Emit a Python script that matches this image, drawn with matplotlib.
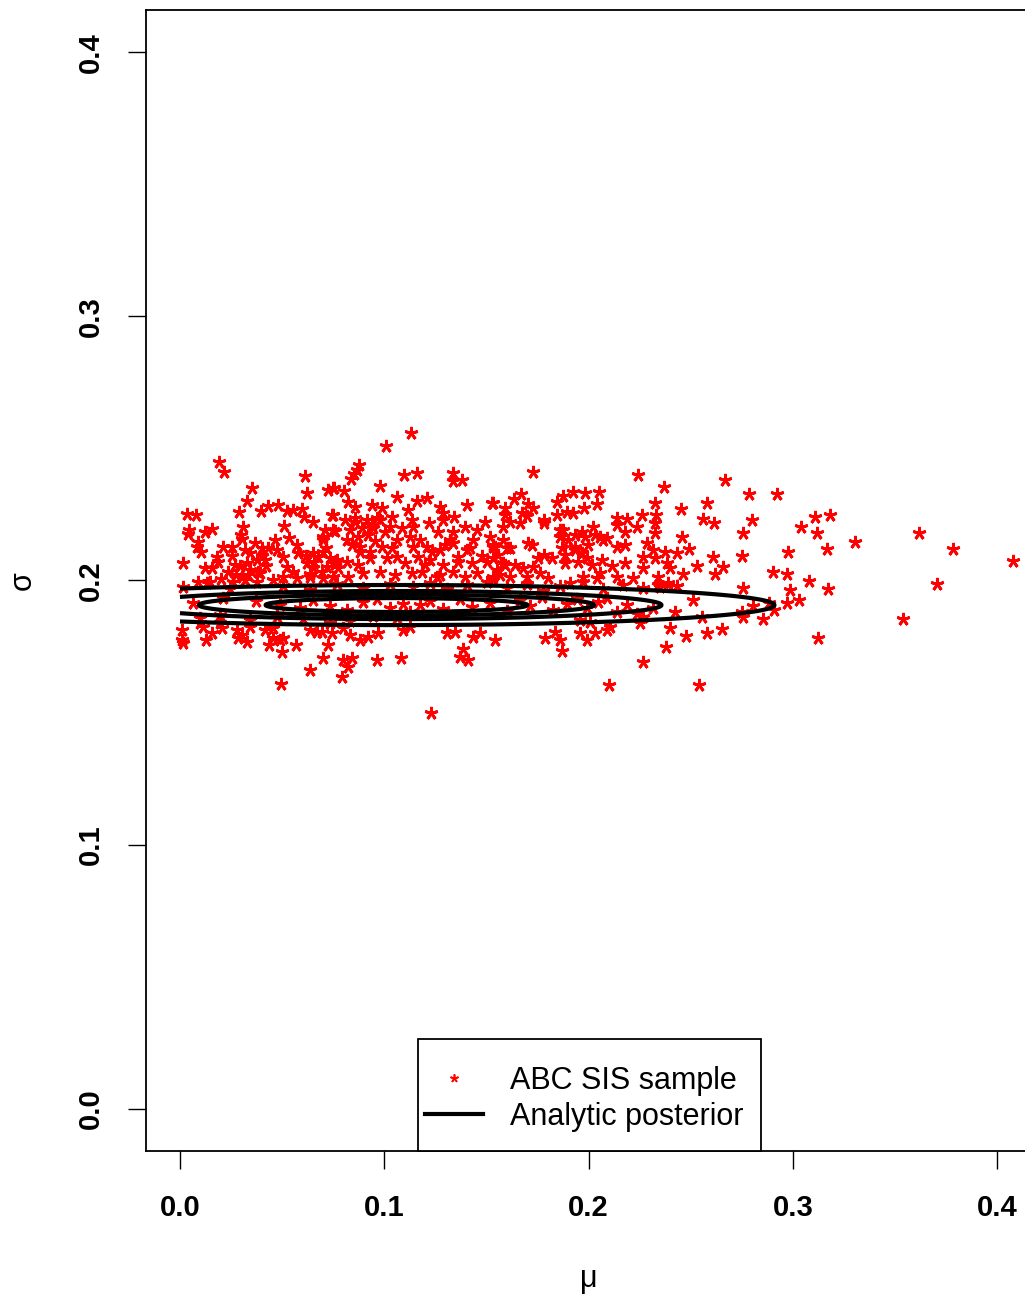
import numpy as np
import matplotlib
matplotlib.use("Agg")
import matplotlib.pyplot as plt
from matplotlib.lines import Line2D
from matplotlib.patches import Rectangle

plt.rcParams['font.family'] = ['Liberation Sans', 'DejaVu Sans']

# ---------------- data: ABC SIS sample (mu, sigma)
mu_right = [0.2787,0.2921,0.2801,0.2757,0.3108,0.3182,0.3038,0.3119,
            0.3304,0.3617,0.3782,0.4076,0.2752,0.2977,0.3168,0.2904,
            0.2970,0.3080,0.2986,0.3172,0.3707,0.2754,0.2803,0.2885,
            0.2970,0.3028,0.2909,0.2757,0.2855,0.3537,0.3123,0.2749]
sigma_right = [0.2327,0.2327,0.2229,0.2178,0.2241,0.2247,0.2203,0.2180,
               0.2145,0.2178,0.2118,0.2073,0.2092,0.2107,0.2118,0.2031,
               0.2024,0.1997,0.1964,0.1969,0.1986,0.1970,0.1903,0.1916,
               0.1916,0.1926,0.1888,0.1863,0.1854,0.1853,0.1781,0.1882]

mu_midright = [0.2369,0.2667,0.2451,0.2578,0.2561,0.2614,0.2456,0.2374,
               0.2432,0.2493,0.2529,0.2611,0.2656,0.2619,0.2383,0.2461,
               0.2399,0.2341,0.2391,0.2432,0.2513,0.2423,0.2252,0.2399,
               0.2477,0.2578,0.2651,0.2379,0.2265,0.2100,0.2539,0.2554,
               0.2350]
sigma_midright = [0.2355,0.2380,0.2269,0.2294,0.2231,0.2216,0.2166,0.2109,
                  0.2103,0.2118,0.2055,0.2088,0.2052,0.2024,0.2065,0.2024,
                  0.2046,0.1982,0.1989,0.1979,0.1926,0.1882,0.1838,0.1819,
                  0.1790,0.1800,0.1815,0.1749,0.1692,0.1604,0.1604,0.1861,
                  0.1976]

mu_lowmid = [0.1787,0.1860,0.1958,0.1991,0.2031,0.2089,0.1869,0.1542,
             0.1436,0.1371,0.1412,0.1387,0.1306,0.1346,0.1468,0.1230,
             0.1836]
sigma_lowmid = [0.1781,0.1775,0.1800,0.1775,0.1800,0.1812,0.1733,0.1775,
                0.1787,0.1710,0.1700,0.1741,0.1800,0.1806,0.1800,0.1497,
                0.1806]

mu_lowleft = [0.0008,0.0008,0.0013,0.0127,0.0155,0.0204,0.0277,0.0302,
              0.0327,0.0285,0.0416,0.0457,0.0489,0.0437,0.0506,0.0498,
              0.0568,0.0636,0.0494,0.0701,0.0726,0.0694,0.0669,0.0743,
              0.0791,0.0824,0.0799,0.0840,0.0832,0.0881,0.0922,0.0971,
              0.0963,0.1082,0.1093,0.1126,0.0098,0.0114,0.0196,0.0343,
              0.0457,0.0636,0.0734,0.0799]
sigma_lowleft = [0.1812,0.1775,0.1762,0.1775,0.1800,0.1819,0.1812,0.1794,
                 0.1768,0.1781,0.1812,0.1781,0.1775,0.1756,0.1781,0.1730,
                 0.1756,0.1661,0.1608,0.1705,0.1756,0.1806,0.1806,0.1800,
                 0.1636,0.1671,0.1699,0.1705,0.1794,0.1775,0.1787,0.1800,
                 0.1699,0.1705,0.1812,0.1825,0.1838,0.1825,0.1838,0.1825,
                 0.1819,0.1812,0.1838,0.1819]

mu_bandright = [0.1175,0.1224,0.1289,0.1371,0.1428,0.1517,0.1599,0.1664,
                0.1713,0.1771,0.1827,0.1893,0.1942,0.1991,0.2048,0.2089,
                0.2138,0.2187,0.2236,0.2268,0.2317,0.2105,0.2007,0.1958,
                0.1142,0.1224,0.1306,0.1403,0.1501,0.1599,0.1697,0.1778,
                0.1860,0.1974,0.2072,0.2170,0.2268]
sigma_bandright = [0.1907,0.1922,0.1893,0.1931,0.1899,0.1916,0.1884,0.1927,
                   0.1905,0.1938,0.1890,0.1912,0.1929,0.1897,0.1918,0.1935,
                   0.1880,0.1909,0.1872,0.1863,0.1894,0.1825,0.1844,0.1851,
                   0.1976,0.1990,0.1968,0.1983,0.1994,0.1972,0.1986,0.1961,
                   0.1979,0.1995,0.1966,0.1984,0.1971]

mu_bandleft = [0.0065,0.0372,0.0212,0.0490,0.0587,0.0653,0.0734,0.0816,
               0.0897,0.0963,0.1028,0.1093,0.1126,0.0098,0.0196,0.0343,
               0.0473,0.0604,0.0718,0.0832,0.0946,0.1061,0.0016,0.0131,
               0.0245,0.0375,0.0506,0.0636,0.0767,0.0897,0.1028]
sigma_bandleft = [0.1916,0.1921,0.1932,0.1908,0.1897,0.1925,0.1903,0.1889,
                  0.1918,0.1929,0.1894,0.1911,0.1882,0.1857,0.1869,0.1849,
                  0.1861,0.1853,0.1872,0.1845,0.1866,0.1858,0.1976,0.1991,
                  0.1968,0.1994,0.1979,0.1965,0.1988,0.1972,0.1985]

mu_upleft = [0.0191,0.0215,0.0612,0.0620,0.0351,0.0329,0.0290,0.0726,
             0.0754,0.0033,0.0077,0.0395,0.0429,0.0481,0.0525,0.0555,
             0.0596,0.0607,0.0650,0.0746,0.0511,0.0044,0.0041,0.0122,
             0.0158,0.0310,0.0297,0.0302,0.0710,0.0759,0.0701,0.0699,
             0.0088,0.0082,0.0101,0.0465,0.0535,0.0212,0.0253,0.0318,
             0.0367,0.0180,0.0187,0.0016,0.0473,0.0506,0.0571,0.0579,
             0.0653,0.0677,0.0701,0.0122,0.0155,0.0327,0.0375,0.0416,
             0.0522,0.0555,0.0620,0.0653,0.0718,0.0759,0.0090,0.0147,
             0.0201,0.0261,0.0302,0.0334,0.0392,0.0457,0.0506,0.0571,
             0.0636,0.0701,0.0750,0.0269,0.0343,0.0401,0.0235,0.0431]
sigma_upleft = [0.2447,0.2409,0.2395,0.2332,0.2349,0.2302,0.2260,0.2342,
                0.2349,0.2251,0.2248,0.2264,0.2282,0.2286,0.2262,0.2266,
                0.2269,0.2241,0.2221,0.2248,0.2206,0.2191,0.2176,0.2185,
                0.2194,0.2201,0.2172,0.2158,0.2191,0.2188,0.2153,0.2164,
                0.2147,0.2128,0.2107,0.2153,0.2160,0.2128,0.2128,0.2115,
                0.2141,0.2090,0.2071,0.2067,0.2115,0.2090,0.2134,0.2103,
                0.2103,0.2090,0.2109,0.2046,0.2046,0.2065,0.2077,0.2077,
                0.2052,0.2033,0.2065,0.2046,0.2052,0.2062,0.1995,0.1995,
                0.2004,0.1995,0.2014,0.2020,0.2027,0.2002,0.2014,0.2008,
                0.2014,0.2008,0.2014,0.2058,0.2039,0.2092,0.2032,0.2123]

mu_upmid = [0.1008,0.0878,0.0865,0.0852,0.0836,0.1097,0.1162,0.1338,
            0.1335,0.1379,0.0979,0.0750,0.0803,0.1064,0.1162,0.1208,
            0.1273,0.1286,0.1286,0.1403,0.1526,0.0824,0.0857,0.0938,
            0.0987,0.0750,0.0808,0.0857,0.0914,0.0963,0.1036,0.1118,
            0.1134,0.1221,0.1341,0.1395,0.1493,0.1452,0.0750,0.0832,
            0.0873,0.0816,0.0946,0.1028,0.1085,0.1142,0.1265,0.1338,
            0.1061,0.1126,0.1322,0.1436,0.1517,0.0881,0.0930,0.0987,
            0.1142,0.1208,0.1273,0.1338,0.1403,0.1542,0.0767,0.0816,
            0.0873,0.0930,0.1012,0.1061,0.1101,0.1167,0.1224,0.1289,
            0.1362,0.1428,0.1501,0.0750,0.0824,0.0897,0.0979,0.1052,
            0.1134,0.1183,0.1257,0.1395,0.1452,0.1534,0.1338,0.1129]
sigma_upmid = [0.2509,0.2437,0.2420,0.2405,0.2383,0.2399,0.2408,0.2408,
               0.2378,0.2380,0.2357,0.2349,0.2340,0.2317,0.2302,0.2311,
               0.2279,0.2254,0.2229,0.2286,0.2294,0.2298,0.2279,0.2286,
               0.2273,0.2248,0.2229,0.2235,0.2229,0.2235,0.2241,0.2266,
               0.2229,0.2216,0.2239,0.2201,0.2223,0.2191,0.2191,0.2191,
               0.2166,0.2153,0.2197,0.2203,0.2197,0.2203,0.2185,0.2185,
               0.2153,0.2166,0.2153,0.2153,0.2166,0.2128,0.2109,0.2128,
               0.2128,0.2128,0.2115,0.2141,0.2115,0.2128,0.2077,0.2071,
               0.2058,0.2084,0.2084,0.2090,0.2065,0.2090,0.2077,0.2058,
               0.2090,0.2065,0.2071,0.2014,0.2014,0.2027,0.2033,0.2020,
               0.2027,0.2033,0.2014,0.2014,0.2027,0.2014,0.2033,0.2559]

mu_upright = [0.1726,0.2244,0.1668,0.1635,0.1534,0.1873,0.1922,0.1982,
              0.2053,0.1844,0.1702,0.1726,0.1978,0.2043,0.1591,0.1591,
              0.1673,0.1697,0.1844,0.1896,0.1925,0.1780,0.1780,0.1616,
              0.1664,0.1583,0.2137,0.2186,0.2137,0.2260,0.2325,0.2020,
              0.2178,0.2236,0.2325,0.2325,0.2330,0.1876,0.1860,0.1933,
              0.1982,0.2056,0.2089,0.1583,0.1705,0.1722,0.1534,0.1599,
              0.2137,0.2178,0.2285,0.2317,0.1869,0.1933,0.1966,0.1991,
              0.1780,0.1820,0.1754,0.1534,0.1583,0.1550,0.1640,0.1680,
              0.1729,0.1885,0.1950,0.2015,0.2064,0.2113,0.2178,0.2268,
              0.2268,0.2325,0.1762,0.1803,0.1616,0.1697,0.1974,0.2040,
              0.2056,0.2137,0.2219,0.2341,0.1534,0.1909,0.2390,0.2431]
sigma_upright = [0.2412,0.2399,0.2327,0.2307,0.2294,0.2320,0.2336,0.2330,
                 0.2336,0.2298,0.2289,0.2273,0.2273,0.2289,0.2273,0.2248,
                 0.2254,0.2244,0.2248,0.2260,0.2256,0.2229,0.2216,0.2223,
                 0.2219,0.2203,0.2235,0.2231,0.2210,0.2248,0.2292,0.2201,
                 0.2185,0.2201,0.2216,0.2178,0.2248,0.2191,0.2166,0.2172,
                 0.2166,0.2166,0.2160,0.2153,0.2141,0.2134,0.2128,0.2122,
                 0.2128,0.2134,0.2141,0.2115,0.2122,0.2128,0.2103,0.2084,
                 0.2096,0.2084,0.2084,0.2084,0.2065,0.2039,0.2058,0.2046,
                 0.2052,0.2065,0.2071,0.2058,0.2077,0.2055,0.2067,0.2090,
                 0.2046,0.2084,0.2027,0.2008,0.2014,0.2014,0.2014,0.2008,
                 0.2027,0.2014,0.2008,0.2014,0.2002,0.1989,0.1983,0.1979]

mu_dense = [0.0857,0.0891,0.0920,0.0955,0.0842,0.1003,0.1038,0.0881,
            0.0940,0.0979,0.0255,0.0294,0.0343,0.0382,0.0421,0.0274,
            0.0401,0.0318,0.0617,0.0656,0.0695,0.0734,0.0773,0.0636,
            0.0715,0.1532,0.1557,0.1591,0.1566,0.1615,0.1860,0.1899,
            0.1934,0.1968,0.1997,0.1885,0.2031,0.2071,0.1175,0.1234,
            0.1297,0.1361,0.1420,0.1478,0.1199,0.1273]
sigma_dense = [0.2221,0.2199,0.2172,0.2149,0.2134,0.2183,0.2123,0.2108,
               0.2210,0.2229,0.2092,0.2055,0.2104,0.2032,0.2055,0.2021,
               0.2123,0.2002,0.2092,0.2070,0.2032,0.2085,0.2047,0.2024,
               0.2123,0.2134,0.2096,0.2059,0.2021,0.2123,0.2191,0.2153,
               0.2115,0.2183,0.2134,0.2096,0.2172,0.2153,0.2153,0.2108,
               0.2134,0.2070,0.2123,0.2092,0.2059,0.2021]

# ---------------- analytic posterior (contour) parameters
post_mu_center = 0.106
post_sigma_center = 0.1907
post_mu_scale = 0.1
post_sigma_scale = 0.0041
contour_radii = [0.641, 0.967, 1.297, 1.85]

x_ticks = [0.0, 0.1, 0.2, 0.3, 0.4]
x_tick_labels = ["0.0", "0.1", "0.2", "0.3", "0.4"]
y_ticks = [0.0, 0.1, 0.2, 0.3, 0.4]
y_tick_labels = ["0.0", "0.1", "0.2", "0.3", "0.4"]
legend_labels = ["ABC SIS sample", "Analytic posterior"]

# ---------------- figure
fig = plt.figure(figsize=(10.25, 12.95), dpi=100)
ax = fig.add_axes([0.1429, 0.1112, 0.8825, 0.8811])

groups = [(mu_right, sigma_right), (mu_midright, sigma_midright),
          (mu_lowmid, sigma_lowmid), (mu_lowleft, sigma_lowleft),
          (mu_bandright, sigma_bandright), (mu_bandleft, sigma_bandleft),
          (mu_upleft, sigma_upleft), (mu_upmid, sigma_upmid),
          (mu_upright, sigma_upright), (mu_dense, sigma_dense)]
mu_all = np.concatenate([np.asarray(m) for m, s in groups])
sigma_all = np.concatenate([np.asarray(s) for m, s in groups])

star = (5, 2, 0)
ax.plot(mu_all, sigma_all, linestyle='none', marker=star, markersize=9.5,
        markeredgewidth=2.0, color='#ff0000', zorder=2)

mg = np.linspace(0.0, 0.42, 900)
sg = np.linspace(0.17, 0.215, 500)
M, S = np.meshgrid(mg, sg)
Z = np.exp(-0.5 * ((M - post_mu_center) / post_mu_scale) ** 2
           - 0.5 * ((S - post_sigma_center) / post_sigma_scale) ** 2)
levels = sorted(np.exp(-0.5 * np.asarray(contour_radii) ** 2))
ax.contour(M, S, Z, levels=levels, colors='black', linewidths=3.0, zorder=3)

ax.set_xlim(-0.0164, 0.4264)
ax.set_ylim(-0.016, 0.416)
ax.set_xticks(x_ticks)
ax.set_xticklabels(x_tick_labels, fontsize=21, fontweight='bold')
ax.set_yticks(y_ticks)
ax.set_yticklabels(y_tick_labels, fontsize=21, fontweight='bold',
                   rotation=90, va='center')
ax.tick_params(axis='both', direction='out', length=13, width=1.0,
               color='black')
ax.tick_params(axis='x', pad=18)
ax.tick_params(axis='y', pad=17)
for sp in ax.spines.values():
    sp.set_linewidth(1.3)
    sp.set_color('black')

ax.set_xlabel("μ", fontsize=22, labelpad=30)
ax.xaxis.label.set_x(0.4892)
ax.set_ylabel("σ", fontsize=22, labelpad=28)

# legend box (R style: touching the bottom of the plot region)
ax.add_patch(Rectangle((0.3001, 0.0), 0.3792, 0.0982, transform=ax.transAxes,
                       facecolor='white', edgecolor='black', linewidth=1.3,
                       zorder=4, clip_on=False))
handles = [Line2D([], [], linestyle='none', marker=star, markersize=6,
                  markeredgewidth=1.2, color='#ff0000'),
           Line2D([], [], color='black', linewidth=3.0)]
leg = ax.legend(handles, legend_labels, loc='center left',
                bbox_to_anchor=(0.3079, 0.0456), fontsize=22, frameon=False,
                borderaxespad=0, borderpad=0, handlelength=1.9,
                handletextpad=0.88, labelspacing=0.2)
leg.set_zorder(5)

fig.savefig("out.png", dpi=100)
